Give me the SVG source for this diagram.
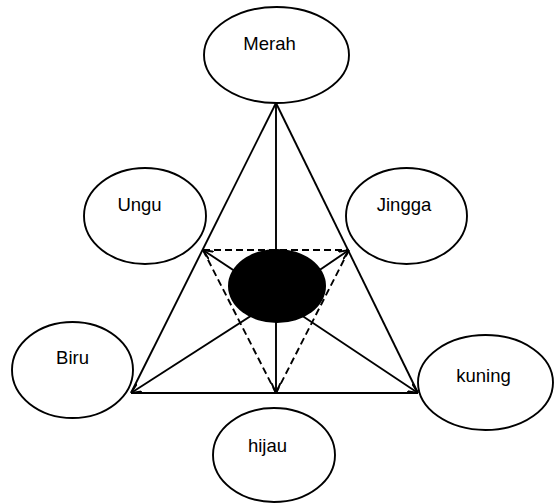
<svg xmlns="http://www.w3.org/2000/svg" width="554" height="504" viewBox="0 0 554 504">
  <style>
    .node ellipse { fill: #ffffff; stroke: #000000; stroke-width: 1.9; }
    .node text { font-family: "Liberation Sans", Arial, sans-serif; font-size: 18.5px; fill: #000000; text-anchor: middle; }
    .edge { stroke: #000000; stroke-width: 1.9; fill: none; }
    .dash { stroke-dasharray: 7 4; }
  </style>
  <defs>
    <marker id="arrow" viewBox="0 0 10 10" refX="10" refY="5" markerWidth="10" markerHeight="10" markerUnits="userSpaceOnUse" orient="auto">
      <path d="M0,0.5 L10,5 L0,9.5" fill="none" stroke="#000000" stroke-width="1.9"/>
    </marker>
  </defs>
  <rect width="554" height="504" fill="#ffffff"/>

  <g id="connectors">
    <!-- outer triangle -->
    <line class="edge" x1="276" y1="103" x2="131" y2="393"/>
    <line class="edge" x1="276" y1="103" x2="418" y2="393"/>
    <line class="edge" x1="131" y1="393" x2="418" y2="393"/>
    <!-- inner dashed triangle -->
    <line class="edge dash" x1="203" y1="250" x2="349" y2="250"/>
    <line class="edge dash" x1="203" y1="250" x2="276" y2="393"/>
    <line class="edge dash" x1="349" y1="250" x2="276" y2="393"/>
    <!-- arrows from the centre -->
    <line class="edge" x1="276" y1="103" x2="276" y2="393" marker-end="url(#arrow)"/>
    <line class="edge" x1="277" y1="299" x2="203" y2="250" marker-end="url(#arrow)"/>
    <line class="edge" x1="277" y1="299" x2="349" y2="250" marker-end="url(#arrow)"/>
    <line class="edge" x1="277" y1="299" x2="131" y2="393" marker-end="url(#arrow)"/>
    <line class="edge" x1="277" y1="299" x2="418" y2="393" marker-end="url(#arrow)"/>
  </g>

  <g id="pusat">
    <ellipse cx="277" cy="286" rx="49" ry="37" fill="#000000"/>
  </g>

  <g id="merah" class="node">
    <ellipse cx="276.5" cy="55" rx="72.5" ry="48"/>
    <text x="269.5" y="50">Merah</text>
  </g>
  <g id="ungu" class="node">
    <ellipse cx="145" cy="216" rx="61" ry="48"/>
    <text x="139.5" y="211">Ungu</text>
  </g>
  <g id="jingga" class="node">
    <ellipse cx="406.5" cy="216" rx="60.5" ry="48"/>
    <text x="404" y="211">Jingga</text>
  </g>
  <g id="biru" class="node">
    <ellipse cx="72.5" cy="370" rx="60.5" ry="48"/>
    <text x="72.5" y="364">Biru</text>
  </g>
  <g id="kuning" class="node">
    <ellipse cx="485.5" cy="382.5" rx="67.5" ry="47.5"/>
    <text x="483.5" y="382">kuning</text>
  </g>
  <g id="hijau" class="node">
    <ellipse cx="274" cy="455" rx="61" ry="47"/>
    <text x="267.5" y="452">hijau</text>
  </g>
</svg>
